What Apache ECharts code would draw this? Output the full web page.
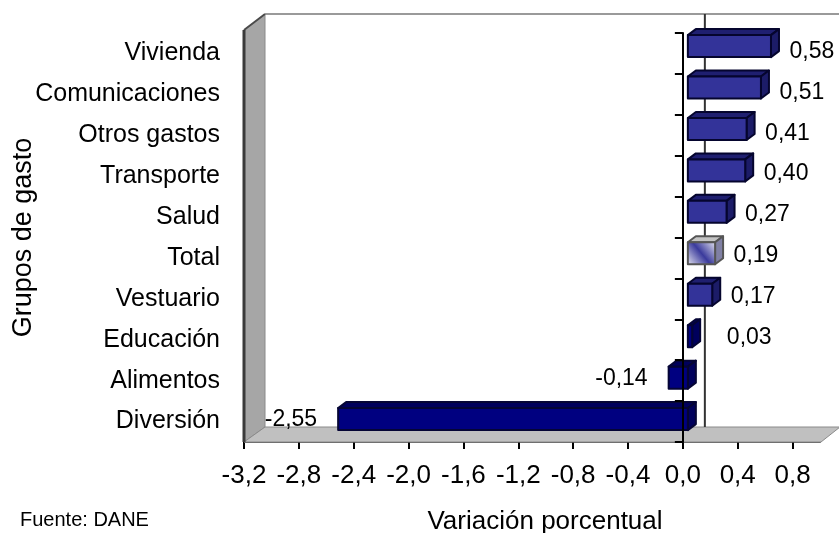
<!DOCTYPE html>
<html><head><meta charset="utf-8">
<style>html,body{margin:0;padding:0;background:#fff}#c{width:839px;height:533px;filter:blur(0.4px)}</style>
<script src="https://cdn.jsdelivr.net/npm/echarts@6/dist/echarts.min.js"></script>
</head><body><div id="c"></div>
<script>
const categories = ['Vivienda','Comunicaciones','Otros gastos','Transporte','Salud','Total','Vestuario','Educación','Alimentos','Diversión'];
const values = [0.58,0.51,0.41,0.40,0.27,0.19,0.17,0.03,-0.14,-2.55];
const xTicks = [-3.2,-2.8,-2.4,-2.0,-1.6,-1.2,-0.8,-0.4,0.0,0.4,0.8];

const FONT = '"Liberation Sans", Arial, sans-serif';
const DX = 8, DY = 6, BAR_H = 22, LIFT = 5, WALL_DX = 21, WALL_DY = 15, POS_STRETCH = 1.045;
const fmt = v => v.toFixed(1).replace('.', ',');
const fmt2 = v => v.toFixed(2).replace('.', ',');

function palette(name, v) {
  if (name === 'Total') return {
    front: {type:'linear',x:0,y:1,x2:1,y2:0,colorStops:[{offset:0,color:'#ececf4'},{offset:0.5,color:'#3a3a9c'},{offset:1,color:'#ececf4'}]},
    top:'#c4c4c4', side:'#8080a4', edge:'#555555'};
  if (Math.abs(v) < 0.1 || v < 0) return {front:'#000080', top:'#00005c', side:'#00005c', edge:'#050535'};
  return {front:'#333399', top:'#1f1f70', side:'#1c1c68', edge:'#05052e'};
}

function renderFrame(params, api) {
  const c = params.coordSys, L = c.x, T = c.y, R = c.x + c.width, B = c.y + c.height;
  const zero = api.coord([0, 0])[0];
  const poly = (pts, fill) => ({type:'polygon', shape:{points:pts}, style:{fill, stroke:'#8a8a8a', lineWidth:1}});
  return {type:'group', children:[
    poly([[L,T-3],[L+WALL_DX,T-WALL_DY-4],[L+WALL_DX,B-WALL_DY],[L,B]], '#a6a6a6'),
    poly([[L,B],[L+WALL_DX,B-WALL_DY],[R+20,B-WALL_DY],[R+1,B]], '#c0c0c0'),
    {type:'line', shape:{x1:L+WALL_DX,y1:T-19,x2:R+30,y2:T-19}, style:{stroke:'#9a9a9a', lineWidth:2}},
    {type:'line', shape:{x1:L,y1:T-3,x2:L+WALL_DX,y2:T-19}, style:{stroke:'#4a4a4a', lineWidth:2}},
    {type:'line', shape:{x1:L,y1:T-3,x2:L,y2:B}, style:{stroke:'#3a3a3a', lineWidth:3}},
    {type:'line', shape:{x1:zero+WALL_DX+1,y1:T-19,x2:zero+WALL_DX+1,y2:B-WALL_DY}, style:{stroke:'#333333', lineWidth:2}}
  ]};
}

function renderBar(params, api) {
  const v = api.value(0), i = api.value(1), name = categories[i];
  const [x0, cy0] = api.coord([0, i]);
  const xv = api.coord([v, i])[0];
  const bottom = params.coordSys.y + params.coordSys.height;
  const cy = cy0 + (cy0 - bottom) * 0.0133 - 2.2;
  const l = Math.min(x0, xv) + LIFT;
  const r = x0 + LIFT + (v > 0 ? (xv - x0) * POS_STRETCH : 0);
  const t = cy - BAR_H / 2, b = cy + BAR_H / 2;
  const p = palette(name, v);
  const sty = fill => ({fill, stroke:p.edge, lineWidth:2, lineJoin:'round'});
  const labelX = v >= 0 ? Math.max(r + DX + 10.5, x0 + 44) : l - 21;
  return {type:'group', children:[
    {type:'polygon', shape:{points:[[l,t],[l+DX,t-DY],[r+DX,t-DY],[r,t]]}, style:sty(p.top)},
    {type:'polygon', shape:{points:[[r,t],[r+DX,t-DY],[r+DX,b-DY],[r,b]]}, style:sty(p.side)},
    {type:'rect', shape:{x:l,y:t,width:r-l,height:BAR_H}, style:sty(p.front)},
    {type:'text', x:labelX, y:cy0-2, style:{text:fmt2(v), font:'23px '+FONT, fill:'#000',
      align:v>=0?'left':'right', verticalAlign:'middle'}}
  ]};
}

const chart = echarts.init(document.getElementById('c'), null, {renderer:'canvas'});
chart.setOption({
  animation:false,
  backgroundColor:'#fff',
  title:{text:'Fuente: DANE', left:15, top:505, textStyle:{fontFamily:FONT, fontSize:20, fontWeight:'normal', color:'#000'}},
  grid:{left:244, right:19, top:33, bottom:91, containLabel:false, outerBoundsMode:'none'},
  xAxis:{type:'value', min:-3.2, max:1.0, interval:0.4, position:'bottom',
    name:'Variación porcentual', nameLocation:'middle', nameGap:67,
    nameTextStyle:{fontFamily:FONT, fontSize:26, color:'#000', padding:[0,0,0,26]},
    axisLine:{show:true, onZero:false, lineStyle:{color:'#555', width:2}},
    axisTick:{show:true, customValues:xTicks, length:7, lineStyle:{color:'#000', width:2}},
    axisLabel:{customValues:xTicks, formatter:v=>fmt(v), fontFamily:FONT, fontSize:26, color:'#000', margin:21},
    splitLine:{show:false}},
  yAxis:[
    {type:'category', inverse:true, data:categories, position:'left',
     name:'Grupos de gasto', nameLocation:'middle', nameGap:207, nameMoveOverlap:false,
     nameTextStyle:{fontFamily:FONT, fontSize:27, color:'#000'},
     axisLine:{show:false, onZero:false},
     axisTick:{show:false},
     axisLabel:{show:true, fontFamily:FONT, fontSize:25, color:'#000', margin:24, padding:[0,0,4,0], interval:0}},
    {type:'category', inverse:true, data:categories, position:'left', z:5,
     axisLine:{show:true, onZero:true, lineStyle:{color:'#000', width:2}},
     axisTick:{show:true, length:8, alignWithLabel:false, lineStyle:{color:'#000', width:2}},
     axisLabel:{show:false}}
  ],
  series:[
    {type:'custom', z:1, silent:true, clip:false, coordinateSystem:'cartesian2d', data:[[0,0]], renderItem:renderFrame},
    {type:'custom', z:2, silent:true, clip:false, coordinateSystem:'cartesian2d',
      encode:{x:0,y:1}, data:values.map((v,i)=>[v,i]), renderItem:renderBar}
  ]
});
</script></body></html>
